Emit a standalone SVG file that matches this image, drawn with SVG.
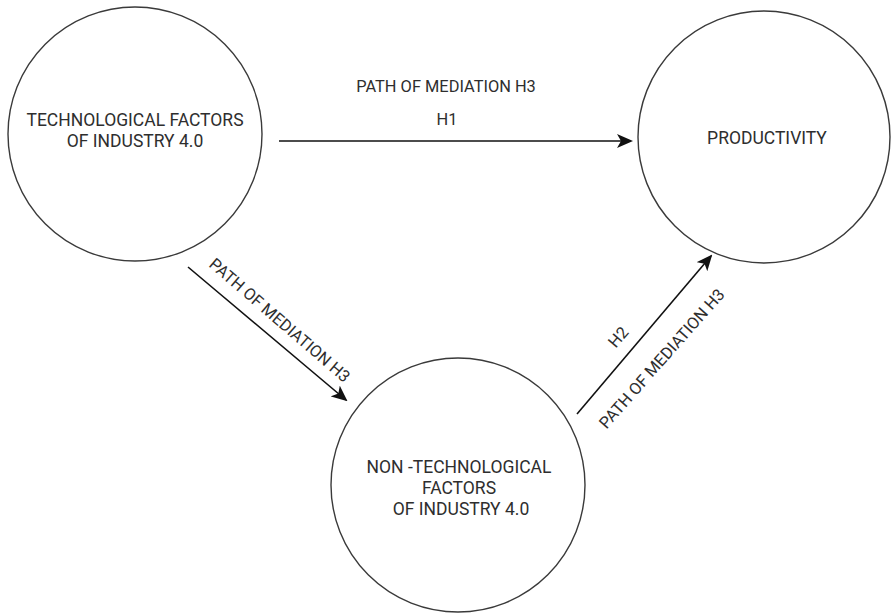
<svg xmlns="http://www.w3.org/2000/svg" width="891" height="613" viewBox="0 0 891 613">
<style>
.node{fill:#fff;stroke:#3a3a3a;stroke-width:1.4}
.nt{font-family:Roboto,"Liberation Sans",sans-serif;font-size:17.5px;fill:#2e2e2e;text-anchor:middle}
.lt{font-family:Roboto,"Liberation Sans",sans-serif;font-size:16.4px;fill:#2e2e2e;text-anchor:middle}
.edge{stroke:#111;stroke-width:1.6;fill:none;marker-end:url(#arr)}
</style>
<defs>
<marker id="arr" markerUnits="userSpaceOnUse" markerWidth="16" markerHeight="14" viewBox="0 0 16 14" refX="14" refY="7" orient="auto">
<path d="M0,0 L16,7 L0,14 L4,7 Z" fill="#111"/>
</marker>
</defs>
<rect width="891" height="613" fill="#fff"/>
<g id="tech">
<circle class="node" cx="135" cy="134" r="127"/>
<text class="nt" x="135" y="126">TECHNOLOGICAL FACTORS</text>
<text class="nt" x="135" y="147">OF INDUSTRY 4.0</text>
</g>
<g id="productivity">
<circle class="node" cx="764" cy="137" r="126"/>
<text class="nt" x="767" y="144">PRODUCTIVITY</text>
</g>
<g id="nontech">
<circle class="node" cx="458" cy="485" r="127"/>
<text class="nt" x="459" y="473">NON -TECHNOLOGICAL</text>
<text class="nt" x="459" y="494">FACTORS</text>
<text class="nt" x="461" y="515">OF INDUSTRY 4.0</text>
</g>
<g id="connectors">
<line class="edge" x1="279" y1="141" x2="631" y2="141"/>
<line class="edge" x1="188" y1="267" x2="346" y2="400"/>
<line class="edge" x1="577" y1="414" x2="711" y2="256"/>
<text class="lt" x="446" y="92">PATH OF MEDIATION H3</text>
<text class="lt" x="447" y="125">H1</text>
<text class="lt" transform="translate(276,324.5) rotate(40.8)">PATH OF MEDIATION H3</text>
<text class="lt" transform="translate(622.6,340.8) rotate(-49.7)">H2</text>
<text class="lt" transform="translate(666,362.4) rotate(-48.5)">PATH OF MEDIATION H3</text>
</g>
</svg>
